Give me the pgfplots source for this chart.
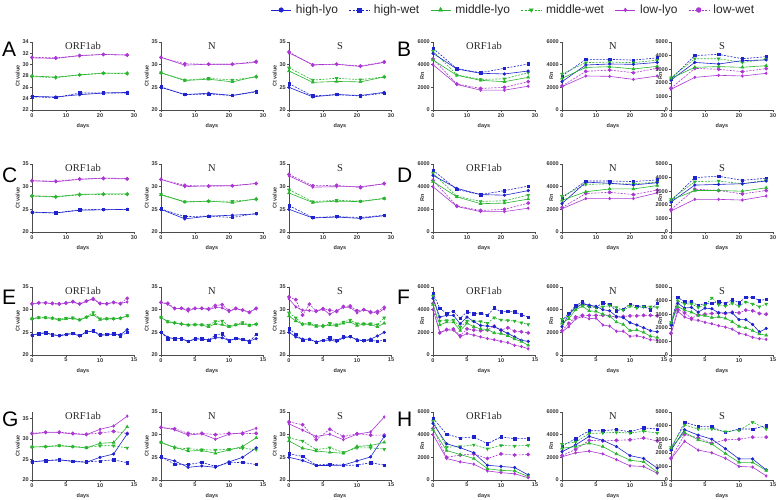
\documentclass[border=0pt]{standalone}
\usepackage{fontspec}
\setmainfont{Liberation Sans}
\newfontfamily\seriffont{Liberation Serif}
\usepackage{pgfplots}
\pgfplotsset{compat=1.18}
\usepackage{pgfplotstable}

\definecolor{cH}{RGB}{30,35,205}
\definecolor{cM}{RGB}{40,180,45}
\definecolor{cL}{RGB}{170,55,210}

\pgfplotsset{
 panel/.style={scale only axis, width=102pt, height=68pt, axis lines=left,
   axis line style={-, black!70, line width=0.7pt},
   tick align=outside, tick style={black!70, line width=0.5pt},
   major tick length=2pt, minor tick length=1.2pt, xmin=0, clip=false,
   ticklabel style={font=\fontsize{5.5}{6}\selectfont\bfseries, text=black!80, inner sep=1pt},
   /pgf/number format/assume math mode=true, /pgf/number format/1000 sep={},
   scaled y ticks=false, scaled x ticks=false,
   xlabel={days}, xlabel style={font=\fontsize{5.5}{6}\selectfont\bfseries, text=black!80, at={(axis description cs:0.5,-0.235)}, anchor=center},
   ylabel style={font=\fontsize{5.5}{6}\selectfont\bfseries, text=black!80, anchor=center},
   minor x tick num=4},
 ct/.style={ylabel={Ct value}, ylabel style={at={(axis description cs:-0.14,0.5)}}, ymin=20, ymax=35, ytick={20,25,30,35}},
 rn6/.style={ylabel={Rn}, ylabel style={at={(axis description cs:-0.105,0.5)}}, ymin=0, ymax=6000, ytick={0,2000,4000,6000}},
 rn5/.style={ylabel={Rn}, ylabel style={at={(axis description cs:-0.105,0.5)}}, ymin=0, ymax=5000, ytick={0,1000,2000,3000,4000,5000}},
 long/.style={xmax=30, xtick={0,10,20,30}},
 short/.style={xmax=15, xtick={0,5,10,15}},
 sHL/.style={color=cH, line width=0.6pt, mark=*, mark size=1.3pt, mark options={solid}},
 sHW/.style={color=cH, line width=0.6pt, dash pattern=on 2pt off 1.3pt, mark=square*, mark size=1.2pt, mark options={solid}},
 sML/.style={color=cM, line width=0.6pt, mark=triangle*, mark size=1.6pt, mark options={solid}},
 sMW/.style={color=cM, line width=0.6pt, dash pattern=on 2pt off 1.3pt, mark=triangle*, mark size=1.6pt, mark options={solid, rotate=180}},
 sLL/.style={color=cL, line width=0.6pt, mark=diamond*, mark size=1.3pt, mark options={solid}},
 sLW/.style={color=cL, line width=0.6pt, dash pattern=on 2pt off 1.3pt, mark=*, mark size=1.6pt, mark options={solid}},
}

\newcommand\panel[5]{%
 \begin{axis}[panel, at={(#1pt,#2pt)}, anchor=south west, #4]
 \addplot[sHW] table[x=d,y=hw]{#3};
 \addplot[sMW] table[x=d,y=mw]{#3};
 \addplot[sLW] table[x=d,y=lw]{#3};
 \addplot[sHL] table[x=d,y=hl]{#3};
 \addplot[sML] table[x=d,y=ml]{#3};
 \addplot[sLL] table[x=d,y=ll]{#3};
 \node[font=\seriffont\fontsize{10.5}{10.5}\selectfont, anchor=north, inner sep=0pt, text=black!85] at (rel axis cs:0.5,1) {#5};
 \end{axis}}

% ---------------- data ----------------
\pgfplotstableread{
d hl hw ml mw ll lw
0 24.4 24.3 28.0 27.9 31.2 31.3
7 24.3 24.2 27.8 27.7 31.1 31.2
14 24.7 25.0 28.2 28.2 31.6 31.6
21 25.0 25.0 28.5 28.5 31.8 31.8
28 25.1 25.0 28.5 28.4 31.7 31.7
}\tAo
\pgfplotstableread{
d hl hw ml mw ll lw
0 25.0 25.1 28.2 28.2 31.6 31.6
7 23.4 23.4 26.5 26.6 29.9 30.2
14 23.7 23.5 26.8 27.0 30.1 30.1
21 23.2 23.2 26.2 26.6 30.1 30.1
28 24.1 24.0 27.4 27.3 30.5 30.7
}\tAn
\pgfplotstableread{
d hl hw ml mw ll lw
0 25.0 25.8 28.6 29.3 32.6 32.8
7 22.9 23.1 26.1 26.6 30.0 29.9
14 23.4 23.4 26.3 27.0 30.1 30.1
21 23.2 23.1 26.2 26.7 29.6 29.7
28 23.9 23.7 27.3 27.3 30.5 30.6
}\tAs
\pgfplotstableread{
d hl hw ml mw ll lw
0 5000 5440 4410 5200 4000 4500
7 3620 3650 3060 3100 2250 2300
14 3240 3290 2620 2700 1750 1900
21 3180 3680 2500 2750 1750 2000
28 3440 4060 2880 3300 2100 2500
}\tBo
\pgfplotstableread{
d hl hw ml mw ll lw
0 2500 3000 2800 3180 2060 2120
7 3970 4470 3760 4180 3000 3410
14 4060 4470 3820 4230 2970 3530
21 4030 4400 3620 4180 2700 3290
28 4200 4600 3850 4400 3000 3680
}\tBn
\pgfplotstableread{
d hl hw ml mw ll lw
0 2200 2280 2330 2380 1520 1600
7 3500 4000 3140 3770 2400 3060
14 3380 4090 3190 3770 2550 2990
21 3630 3770 3140 3500 2500 2820
28 3680 3920 3260 3730 2700 3040
}\tBs
\pgfplotstableread{
d hl hw ml mw ll lw
0 24.4 24.3 28.0 27.9 31.3 31.3
7 24.2 24.2 27.8 27.7 31.1 31.2
14 24.8 24.9 28.3 28.2 31.6 31.7
21 24.9 25.0 28.4 28.3 31.9 31.8
28 25.0 25.0 28.4 28.3 31.8 31.7
}\tCo
\pgfplotstableread{
d hl hw ml mw ll lw
0 25.0 25.1 28.2 28.3 31.6 31.6
7 22.9 23.4 26.6 26.7 30.0 30.3
14 23.5 23.5 26.8 26.8 30.2 30.1
21 23.7 23.2 26.5 26.8 30.2 30.2
28 24.0 24.1 27.3 27.2 30.7 30.7
}\tCn
\pgfplotstableread{
d hl hw ml mw ll lw
0 25.0 25.8 28.6 29.3 32.4 32.7
7 23.1 23.2 26.5 26.7 29.9 30.2
14 23.3 23.4 26.8 27.0 30.0 30.3
21 23.0 23.2 26.7 26.8 30.0 29.8
28 23.6 23.7 27.4 27.4 30.6 30.7
}\tCs
\pgfplotstableread{
d hl hw ml mw ll lw
0 5000 5450 4450 5200 4000 4550
7 3850 3750 3100 3150 2250 2300
14 3300 3300 2500 2700 1800 1900
21 3250 3650 2550 2750 1800 2000
28 3650 4050 2900 3250 2100 2550
}\tDo
\pgfplotstableread{
d hl hw ml mw ll lw
0 2500 3000 2800 3150 2050 2150
7 4400 4500 3550 4200 2950 3400
14 4300 4500 3800 4250 2950 3500
21 4150 4450 3800 4250 2950 3300
28 4350 4600 4100 4400 3450 3700
}\tDn
\pgfplotstableread{
d hl hw ml mw ll lw
0 2200 2300 2350 2400 1550 1650
7 3450 4000 3050 3700 2400 3150
14 3500 4100 3050 3750 2400 3050
21 3550 3800 3000 3550 2350 2800
28 3750 3950 3250 3800 2650 3050
}\tDs
\pgfplotstableread{
d hl hw ml mw ll lw
0 24.4 24.4 28.0 28.0 31.3 31.3
1 24.7 24.7 28.2 28.3 31.5 31.5
2 24.9 24.9 28.2 28.3 31.5 31.5
3 24.5 24.5 28.1 28.1 31.3 31.4
4 24.2 24.3 27.7 27.9 31.2 31.3
5 24.5 24.6 28.0 28.1 31.4 31.5
6 24.7 24.8 28.1 28.2 31.7 31.8
7 24.2 24.3 27.7 27.8 31.2 31.3
8 25.1 25.1 28.3 28.4 31.8 31.9
9 25.3 25.3 28.9 29.4 32.5 32.3
10 24.3 24.5 27.8 28.0 31.3 31.4
11 24.5 24.6 28.0 28.0 31.3 31.3
12 24.6 24.7 28.0 28.0 31.6 31.6
13 24.5 24.2 28.1 28.1 31.4 31.3
14 25.6 25.0 28.6 28.7 31.7 32.5
}\tEo
\pgfplotstableread{
d hl hw ml mw ll lw
0 25.0 25.0 28.3 28.3 31.6 31.6
1 23.9 23.6 27.3 27.4 31.2 31.4
2 23.6 23.6 27.1 27.1 30.2 30.3
3 23.6 23.6 26.9 26.8 30.3 30.3
4 23.0 23.0 26.6 26.6 29.7 30.1
5 23.5 23.6 26.7 26.7 30.3 30.3
6 23.5 23.6 26.6 26.7 30.3 30.3
7 23.3 23.3 26.2 26.6 30.0 30.2
8 23.8 24.4 26.9 27.4 30.5 30.9
9 23.8 24.7 26.7 27.5 30.4 31.1
10 23.2 23.1 26.2 26.4 29.6 29.8
11 23.6 23.7 26.6 26.7 30.2 30.3
12 23.4 23.5 26.9 27.2 29.9 29.9
13 23.1 22.9 26.5 26.6 29.5 29.4
14 23.6 24.6 26.8 26.8 30.2 30.3
}\tEn
\pgfplotstableread{
d hl hw ml mw ll lw
0 25.0 25.8 28.6 29.3 32.4 32.8
1 24.0 24.6 27.5 28.2 30.6 32.2
2 23.5 23.3 26.8 26.8 29.9 28.8
3 23.5 23.5 26.8 27.0 29.8 31.2
4 22.9 22.8 26.3 26.5 29.6 29.7
5 23.2 23.3 26.5 26.3 30.1 30.2
6 23.3 23.8 26.6 27.0 29.0 29.9
7 23.0 23.2 26.5 26.7 29.8 29.6
8 23.8 24.0 27.0 27.3 30.5 30.7
9 24.0 24.1 27.3 27.7 30.5 30.8
10 23.4 23.3 26.5 26.9 29.3 29.8
11 23.1 23.2 26.8 26.9 30.0 30.0
12 23.5 23.3 26.7 26.9 29.6 29.4
13 24.2 23.0 26.2 26.7 29.2 29.6
14 25.0 23.3 27.0 28.2 30.2 30.5
}\tEs
\pgfplotstableread{
d hl hw ml mw ll lw
0 5000 5450 4450 5200 4000 4550
1 3350 4100 2650 3000 2000 1950
2 3500 3700 2900 3050 2200 2250
3 3500 3850 2900 3100 2200 2300
4 2750 3250 2150 2450 1600 1700
5 3350 3800 2800 3000 1900 2300
6 2950 3650 2500 3000 1750 2200
7 2600 3700 2300 2950 1600 2150
8 2550 3500 2250 2800 1450 2200
9 2500 4150 1950 3300 1350 2550
10 2200 3800 1900 3100 1200 2200
11 1900 3850 1700 3050 1100 2400
12 1600 3800 1400 3000 850 2100
13 1300 3550 1200 2850 750 2050
14 1200 3350 850 2700 550 1950
}\tFo
\pgfplotstableread{
d hl hw ml mw ll lw
0 2500 3000 2800 3150 2050 2150
1 3600 3700 3200 3500 2500 2800
2 4200 4350 4000 4150 3200 3350
3 4500 4700 4300 4400 3400 3500
4 4400 4300 3900 4250 3200 3500
5 4300 4200 3850 4200 3250 3500
6 4000 4600 3600 4250 2650 3500
7 3900 4450 3450 4350 2550 3450
8 3400 3900 2900 4200 2100 3350
9 3300 4050 2700 3950 2100 3400
10 2850 4500 2150 4300 1650 3450
11 2650 4300 2200 4150 1700 3450
12 2400 4300 2000 4250 1550 3500
13 2150 4000 1650 4250 1350 3500
14 2050 4550 1550 4200 1300 3450
}\tFn
\pgfplotstableread{
d hl hw ml mw ll lw
0 2200 2300 2350 2400 1550 1600
1 3800 4250 3550 4000 3200 3350
2 3450 3900 3300 3750 2800 3100
3 3500 3900 3150 3750 2600 2700
4 3150 3650 2900 3500 2550 2950
5 3450 3800 2900 3650 2400 3000
6 3400 3800 2750 4200 2300 3050
7 3100 3900 2800 3700 2150 3100
8 3100 3800 2700 3600 2050 3050
9 3100 4050 2450 3800 1900 3150
10 2600 3850 2100 3600 1600 3100
11 2600 4250 2000 3900 1500 3300
12 2250 4250 1800 3750 1300 3250
13 1700 4000 1550 3550 1200 3050
14 1950 4100 1450 3750 1150 3000
}\tFs
\pgfplotstableread{
d hl hw ml mw ll lw
0 24.4 24.4 28.0 28.0 31.2 31.3
2 24.7 24.7 28.1 28.1 31.5 31.6
4 24.9 24.9 28.3 28.4 31.5 31.6
6 24.5 24.6 28.1 28.1 31.2 31.3
8 24.3 24.4 27.8 27.9 31.0 31.1
10 25.5 24.6 28.9 28.3 32.3 31.4
12 26.3 24.9 29.1 28.3 33.1 31.8
14 31.2 24.2 32.9 27.8 35.5 31.3
}\tGo
\pgfplotstableread{
d hl hw ml mw ll lw
0 25.0 25.1 28.3 28.3 31.6 31.6
2 24.2 23.5 27.2 27.1 31.1 31.3
4 22.8 23.4 26.4 26.9 29.9 30.3
6 23.1 23.9 26.5 26.7 30.2 30.3
8 22.8 23.0 25.9 26.6 29.0 30.0
10 24.0 23.8 26.6 26.8 30.1 30.3
12 25.0 23.9 27.4 27.0 30.4 30.2
14 27.1 23.4 29.3 26.7 31.4 30.3
}\tGn
\pgfplotstableread{
d hl hw ml mw ll lw
0 25.0 25.8 28.6 29.3 32.4 32.8
2 24.3 25.2 27.0 28.6 31.0 32.2
4 23.2 23.3 26.4 26.7 29.6 28.9
6 23.2 23.5 26.1 27.1 30.1 31.2
8 23.3 23.2 25.9 26.1 28.9 29.6
10 24.2 23.3 27.4 27.1 30.1 30.2
12 25.1 23.8 27.6 27.1 30.6 29.9
14 29.6 23.3 28.3 26.8 33.9 29.9
}\tGs
\pgfplotstableread{
d hl hw ml mw ll lw
0 5000 5450 4450 5200 4000 4550
2 3200 4050 2600 2900 1900 2000
4 2850 3700 2250 2950 1600 2200
6 2400 3800 1900 3100 1400 2300
8 1300 3200 1000 2750 800 1900
10 1200 3800 850 3050 650 2300
12 1100 3650 800 3000 550 2200
14 450 3650 300 3050 200 2250
}\tHo
\pgfplotstableread{
d hl hw ml mw ll lw
0 2500 3000 2800 3150 2050 2150
2 3100 3650 2950 3350 2400 2700
4 3850 4350 3250 4100 2550 3500
6 3500 4350 2950 4150 2300 3450
8 2950 4450 2300 4200 1800 3500
10 2150 4250 1750 4150 1250 3550
12 1900 4600 1600 4300 1200 3700
14 1050 4500 700 4150 600 3450
}\tHn
\pgfplotstableread{
d hl hw ml mw ll lw
0 2200 2300 2350 2400 1550 1600
2 3700 4250 3500 4050 2850 3350
4 3300 3950 2950 3750 2200 3100
6 3000 3900 2650 3750 2000 2700
8 2300 3500 1950 3550 1600 2950
10 1550 3750 1300 3650 1000 3000
12 1550 3750 1300 4250 950 3150
14 750 4000 700 3750 300 3150
}\tHs

\begin{document}
\begin{tikzpicture}
\path[use as bounding box] (0,0) rectangle (778pt,499pt);

% Row 1 (A, B)
\panel{32}{389}{\tAo}{long, ct, ymin=22, ymax=34, ytick={22,24,26,28,30,32,34}}{ORF1ab}
\panel{161}{389}{\tAn}{long, ct}{N}
\panel{289}{389}{\tAs}{long, ct}{S}
\panel{433}{389}{\tBo}{long, rn6}{ORF1ab}
\panel{562}{389}{\tBn}{long, rn6}{N}
\panel{671}{389}{\tBs}{long, rn5}{S}
% Row 2 (C, D)
\panel{32}{267}{\tCo}{long, ct}{ORF1ab}
\panel{161}{267}{\tCn}{long, ct}{N}
\panel{289}{267}{\tCs}{long, ct}{S}
\panel{433}{267}{\tDo}{long, rn6}{ORF1ab}
\panel{562}{267}{\tDn}{long, rn6}{N}
\panel{671}{267}{\tDs}{long, rn5}{S}
% Row 3 (E, F)
\panel{32}{144}{\tEo}{short, ct}{ORF1ab}
\panel{161}{144}{\tEn}{short, ct}{N}
\panel{289}{144}{\tEs}{short, ct}{S}
\panel{433}{144}{\tFo}{short, rn6}{ORF1ab}
\panel{562}{144}{\tFn}{short, rn6}{N}
\panel{671}{144}{\tFs}{short, rn5}{S}
% Row 4 (G, H)
\panel{32}{19}{\tGo}{short, ct, ymax=36.5}{ORF1ab}
\panel{161}{19}{\tGn}{short, ct}{N}
\panel{289}{19}{\tGs}{short, ct}{S}
\panel{433}{19}{\tHo}{short, rn6}{ORF1ab}
\panel{562}{19}{\tHn}{short, rn6}{N}
\panel{671}{19}{\tHs}{short, rn5}{S}

% panel letters
\foreach \l/\x/\y in {A/2/457, B/397/457, C/2/331, D/397/331, E/2/209, F/397/209, G/2/87, H/397/87}{
  \node[font=\fontsize{21}{21}\selectfont, anchor=north west, inner sep=0pt] at (\x pt,\y pt) {\l};
}

% legend
\begin{axis}[at={(0pt,0pt)}, anchor=south west, scale only axis, width=778pt, height=499pt,
  hide axis, xmin=0, xmax=1, ymin=0, ymax=1,
  legend columns=6,
  legend style={at={(0.976,0.98)}, anchor=east, draw=none, fill=none,
    font=\fontsize{12}{12}\selectfont, text=black!85,
    /tikz/every odd column/.append style={column sep=2.5pt},
    /tikz/every even column/.append style={column sep=9pt}},
  legend image code/.code={\draw[mark repeat=2,mark phase=2] plot coordinates {(0cm,0cm)(0.35cm,0cm)(0.7cm,0cm)};}]
\addlegendimage{sHL, mark size=2.2pt}\addlegendentry{high-lyo}
\addlegendimage{sHW, mark size=2pt}\addlegendentry{high-wet}
\addlegendimage{sML, mark size=2.4pt}\addlegendentry{middle-lyo}
\addlegendimage{sMW, mark size=2.2pt}\addlegendentry{middle-wet}
\addlegendimage{sLL, mark size=1.8pt}\addlegendentry{low-lyo}
\addlegendimage{sLW, mark size=2.4pt}\addlegendentry{low-wet}
\end{axis}
\end{tikzpicture}
\end{document}
